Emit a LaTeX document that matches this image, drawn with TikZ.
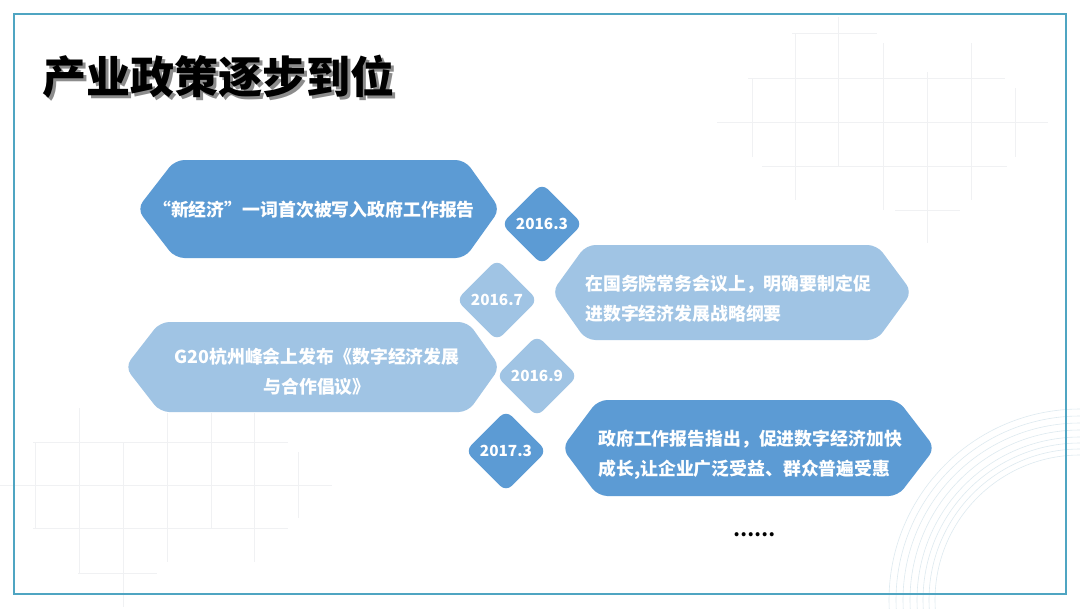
\documentclass[tikz,border=0pt]{standalone}
\usepackage{fontspec}
\setmainfont{Noto Sans CJK SC}
\usetikzlibrary{shapes.geometric}
\definecolor{darkb}{HTML}{5C9BD4}
\definecolor{lightb}{HTML}{A0C4E4}
\definecolor{framec}{HTML}{4FA5C2}
\definecolor{gridc}{HTML}{F0F1F3}
\definecolor{ringc}{HTML}{DEEAF0}
\newcommand{\shadowtext}[1]{\makebox[0pt][l]{\hspace{2.2pt}\raisebox{-2.2pt}{\textcolor{black!45}{#1}}}#1}
\begin{document}
\begin{tikzpicture}[x=0.75pt,y=-0.75pt,
  gridline/.style={draw=gridc, line width=0.5pt},
  ring/.style={draw=ringc, line width=0.45pt},
  hexshape/.style={rounded corners=7pt},
  datebox/.style={diamond, minimum width=61pt, minimum height=61pt, inner sep=0pt,
    rounded corners=6pt, text=white, font=\fontsize{11.5}{14}\selectfont\bfseries},
  boxtext/.style={text=white, inner sep=0pt, font=\fontsize{13.4}{22.5}\selectfont\bfseries},
  titletext/.style={anchor=west, inner sep=0pt, font=\fontsize{33}{40}\selectfont\bfseries}]
\useasboundingbox (0,0) rectangle (1080,608);
\fill[white] (0,0) rectangle (1080,608);
% background grid, top right
\draw[gridline] (792,33) -- (877,33) (748,78) -- (1005,78) (717,122) -- (1048,122)
  (762,166) -- (1007,166) (895,210) -- (960,210);
\draw[gridline] (752,78) -- (752,157) (795,33) -- (795,200) (838,17) -- (838,167)
  (883,43) -- (883,210) (927,72) -- (927,243) (971,43) -- (971,200) (1015,88) -- (1015,157);
% background grid, bottom left
\draw[gridline] (33,442) -- (288,442) (0,485) -- (332,485) (33,528) -- (288,528) (78,573) -- (157,573);
\draw[gridline] (35,442) -- (35,528) (79,408) -- (79,573) (123,442) -- (123,607)
  (167,413) -- (167,562) (211,413) -- (211,528) (254,413) -- (254,562) (298,452) -- (298,518);
% concentric rings, bottom right
\begin{scope}
\clip (0,0) rectangle (1080,608);
\foreach \r in {145,151,157,163,170,177,184,191}
  \draw[ring] (1080,600) circle[radius=\r*0.75pt];
\end{scope}
% frame
\draw[framec, line width=2.2pt] (14,14) rectangle (1066,594);
% title
\node[titletext, text=black] (title) at (42,78) {\shadowtext{产业政策逐步到位}};
% hexagons
\fill[darkb, hexshape] (320,160) -- (465,160) -- (500,209) -- (465,258) -- (175,258) -- (137,209) -- (175,160) -- cycle;
\fill[lightb, hexshape] (730,245) -- (877,245) -- (912,292) -- (877,340) -- (586,340) -- (552,292) -- (586,245) -- cycle;
\fill[lightb, hexshape] (320,322) -- (468,322) -- (500,367) -- (468,412) -- (160,412) -- (125,367) -- (160,322) -- cycle;
\fill[darkb, hexshape] (750,400) -- (898,400) -- (935,448) -- (898,496) -- (598,496) -- (562,448) -- (598,400) -- cycle;
% diamonds
\node[datebox, fill=darkb] (d1) at (542,224) {2016.3};
\node[datebox, fill=lightb] (d2) at (497,300) {2016.7};
\node[datebox, fill=lightb] (d3) at (537,376) {2016.9};
\node[datebox, fill=darkb] (d4) at (506,451) {2017.3};
% texts
\node[boxtext, align=center] (t1) at (314,210) {“新经济”一词首次被写入政府工作报告};
\node[boxtext, align=left, anchor=west] (t2) at (585,299) {在国务院常务会议上，明确要制定促\\进数字经济发展战略纲要};
\node[boxtext, align=center] (t3) at (317,372) {G20杭州峰会上发布《数字经济发展\\与合作倡议》};
\node[boxtext, align=left, anchor=west] (t4) at (598,455) {政府工作报告指出，促进数字经济加快\\成长,让企业广泛受益、群众普遍受惠};
\node[font=\fontsize{14}{16}\selectfont\bfseries, inner sep=0pt] (dots) at (754,535) {……};
\end{tikzpicture}
\end{document}
